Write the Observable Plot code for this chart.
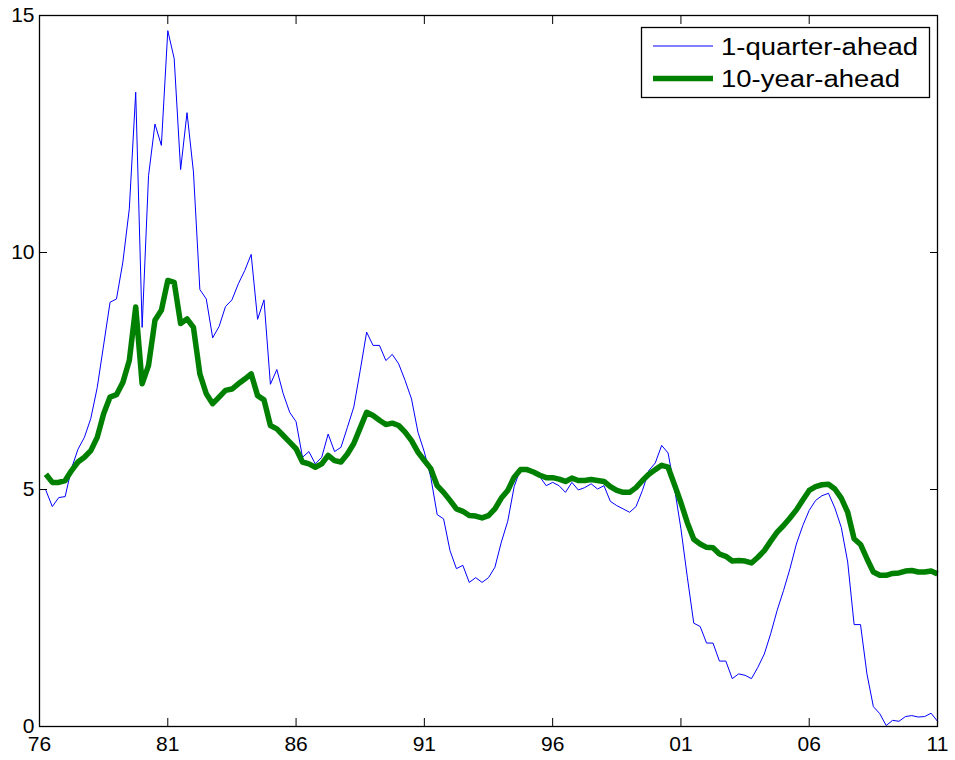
<!DOCTYPE html>
<html>
<head>
<meta charset="utf-8">
<script src="https://cdn.jsdelivr.net/npm/d3@7"></script>
<script src="https://cdn.jsdelivr.net/npm/@observablehq/plot@0.6"></script>
<style>
  body { margin: 0; background: white; }
  #chart { position: relative; width: 955px; height: 760px; }
</style>
</head>
<body>
<div id="chart"></div>
<script>
// Quarterly observations, first quarter ends 1976.25, one point per quarter
const firstQuarter = 1976.25;

const oneQuarterAhead = [
  4.98, 4.64, 4.83, 4.85, 5.45, 5.85, 6.10, 6.50, 7.15, 8.05,
  8.95, 9.02, 9.80, 10.92, 13.38, 8.42, 11.62, 12.71, 12.26, 14.68,
  14.09, 11.75, 12.95, 11.70, 9.22, 9.02, 8.20, 8.44, 8.86, 9.00,
  9.34, 9.62, 9.96, 8.59, 9.00, 7.22, 7.53, 7.02, 6.63, 6.43,
  5.68, 5.80, 5.54, 5.68, 6.17, 5.80, 5.89, 6.31, 6.74, 7.51,
  8.32, 8.04, 8.04, 7.72, 7.85, 7.65, 7.30, 6.91, 6.21, 5.79,
  5.26, 4.47, 4.38, 3.71, 3.33, 3.40, 3.04, 3.14, 3.04, 3.14,
  3.36, 3.89, 4.33, 5.06, 5.44, 5.46, 5.40, 5.27, 5.08, 5.15,
  5.08, 4.94, 5.15, 4.99, 5.04, 5.12, 5.01, 5.08, 4.75, 4.66,
  4.59, 4.52, 4.64, 4.98, 5.40, 5.56, 5.93, 5.77, 5.03, 4.17,
  3.15, 2.18, 2.11, 1.76, 1.76, 1.38, 1.38, 1.01, 1.11, 1.08,
  1.01, 1.25, 1.53, 1.96, 2.45, 2.87, 3.33, 3.85, 4.24, 4.56,
  4.77, 4.87, 4.92, 4.61, 4.20, 3.47, 2.15, 2.15, 1.11, 0.42,
  0.27, 0.02, 0.13, 0.11, 0.21, 0.23, 0.20, 0.21, 0.28, 0.11
];

const tenYearAhead = [
  5.32, 5.15, 5.15, 5.19, 5.40, 5.58, 5.68, 5.82, 6.10, 6.60,
  6.95, 7.00, 7.26, 7.72, 8.85, 7.23, 7.62, 8.57, 8.78, 9.41,
  9.37, 8.50, 8.60, 8.42, 7.44, 7.02, 6.81, 6.95, 7.09, 7.12,
  7.23, 7.33, 7.44, 6.98, 6.89, 6.35, 6.28, 6.14, 6.00, 5.86,
  5.58, 5.54, 5.47, 5.54, 5.72, 5.61, 5.58, 5.75, 5.97, 6.30,
  6.63, 6.56, 6.46, 6.37, 6.40, 6.35, 6.21, 6.03, 5.79, 5.61,
  5.44, 5.08, 4.94, 4.77, 4.59, 4.54, 4.45, 4.44, 4.40, 4.45,
  4.59, 4.82, 4.98, 5.26, 5.42, 5.42, 5.37, 5.30, 5.25, 5.25,
  5.22, 5.17, 5.24, 5.19, 5.19, 5.21, 5.19, 5.17, 5.06, 4.98,
  4.94, 4.94, 5.04, 5.19, 5.32, 5.42, 5.51, 5.47, 5.10, 4.72,
  4.30, 3.95, 3.85, 3.78, 3.77, 3.64, 3.59, 3.49, 3.50, 3.49,
  3.45, 3.57, 3.71, 3.91, 4.10, 4.24, 4.40, 4.57, 4.78, 4.98,
  5.06, 5.10, 5.11, 5.01, 4.82, 4.52, 3.96, 3.84, 3.54, 3.26,
  3.19, 3.19, 3.23, 3.24, 3.28, 3.29, 3.26, 3.26, 3.28, 3.22
];

const xTicks = [1976, 1981, 1986, 1991, 1996, 2001, 2006, 2011];
const xTickLabels = ["76", "81", "86", "91", "96", "01", "06", "11"];
const yTicks = [0, 5, 10, 15];
const seriesNames = ["1-quarter-ahead", "10-year-ahead"];
const seriesColors = ["#0000ff", "#008000"];

const data = oneQuarterAhead.map((v, i) => ({
  t: firstQuarter + i / 4,
  q1: v,
  y10: tenYearAhead[i]
}));

const fmtX = d => xTickLabels[xTicks.indexOf(d)];

const chart = Plot.plot({
  width: 955,
  height: 760,
  marginLeft: 39,
  marginRight: 18,
  marginTop: 15,
  marginBottom: 34,
  style: {
    fontFamily: "'Liberation Sans', Arial, Helvetica, sans-serif",
    fontSize: "20px",
    color: "black",
    background: "white",
    overflow: "visible"
  },
  x: { domain: [1976, 2011] },
  y: { domain: [0, 15] },
  marks: [
    Plot.axisX({ anchor: "bottom", ticks: xTicks, tickSize: 0, tickPadding: 10, tickFormat: fmtX, fontSize: 21, label: null }),
    Plot.axisX({ anchor: "bottom", ticks: xTicks, tickSize: -8, fill: "none", stroke: "black", label: null }),
    Plot.axisX({ anchor: "top", ticks: xTicks, tickSize: -8, fill: "none", stroke: "black", label: null }),
    Plot.axisY({ anchor: "left", ticks: yTicks, tickSize: 0, tickPadding: 5, fontSize: 21, label: null }),
    Plot.axisY({ anchor: "left", ticks: yTicks, tickSize: -8, fill: "none", stroke: "black", label: null }),
    Plot.axisY({ anchor: "right", ticks: yTicks, tickSize: -8, fill: "none", stroke: "black", label: null }),
    Plot.line(data, { x: "t", y: "q1", stroke: seriesColors[0], strokeWidth: 1 }),
    Plot.line(data, { x: "t", y: "y10", stroke: seriesColors[1], strokeWidth: 5.5, strokeLinejoin: "round", strokeLinecap: "butt" }),
    Plot.frame({ stroke: "black", strokeWidth: 1.3 })
  ]
});

document.getElementById("chart").appendChild(chart);

// Legend box (top right, inside the axes)
const svg = d3.select(chart);
const lg = svg.append("g").attr("class", "legend");
lg.append("rect")
  .attr("x", 641.5).attr("y", 27.5).attr("width", 288).attr("height", 70)
  .attr("fill", "white").attr("stroke", "black").attr("stroke-width", 1.3);
const rowsY = [46, 78.5];
const textLens = [197, 179];
const widths = [1, 5.5];
seriesNames.forEach((name, i) => {
  lg.append("line")
    .attr("x1", 653).attr("x2", 713)
    .attr("y1", rowsY[i]).attr("y2", rowsY[i])
    .attr("stroke", seriesColors[i]).attr("stroke-width", widths[i]);
  lg.append("text")
    .attr("x", 721).attr("y", rowsY[i] + 8.5)
    .attr("text-anchor", "start")
    .attr("font-size", 23)
    .attr("fill", "black")
    .attr("textLength", textLens[i])
    .attr("lengthAdjust", "spacingAndGlyphs")
    .text(name);
});
</script>
</body>
</html>
